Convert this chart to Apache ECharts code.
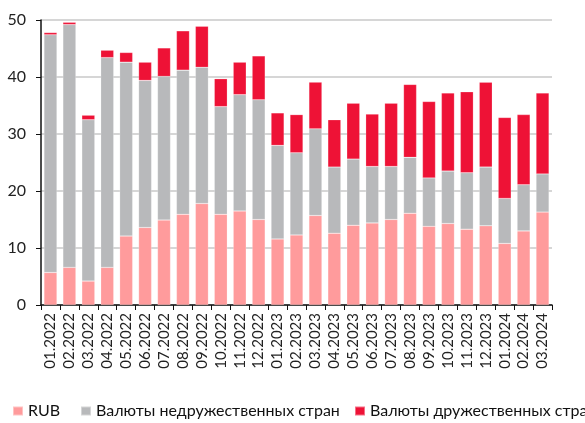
<!DOCTYPE html>
<html lang="ru">
<head>
    <meta charset="UTF-8">
    <title>Валютная структура</title>
    <style>
        html, body { margin: 0; padding: 0; background: #fff; }
    </style>
</head>
<body>
<div id="main" style="width: 585px;height:423px;"></div>
<script src="https://cdn.jsdelivr.net/npm/echarts@6/dist/echarts.min.js"></script>
<script type="text/javascript">
    // месяцы
    var months = ['01.2022', '02.2022', '03.2022', '04.2022', '05.2022', '06.2022', '07.2022', '08.2022', '09.2022',
        '10.2022', '11.2022', '12.2022', '01.2023', '02.2023', '03.2023', '04.2023', '05.2023', '06.2023',
        '07.2023', '08.2023', '09.2023', '10.2023', '11.2023', '12.2023', '01.2024', '02.2024', '03.2024'];

    // RUB
    var rub = [5.7, 6.6, 4.2, 6.6, 12.1, 13.6, 14.9, 15.9, 17.8, 15.9, 16.5, 15.0, 11.6, 12.3,
        15.7, 12.6, 14.0, 14.4, 15.0, 16.1, 13.8, 14.3, 13.3, 13.9, 10.8, 13.0, 16.3];
    // валюты недружественных стран
    var unfriendly = [41.7, 42.6, 28.3, 36.8, 30.5, 25.8, 25.2, 25.3, 23.9, 18.9, 20.4, 21.0, 16.4, 14.4,
        15.2, 11.6, 11.6, 9.9, 9.3, 9.8, 8.5, 9.2, 9.9, 10.3, 7.9, 8.1, 6.7];
    // валюты дружественных стран
    var friendly = [0.4, 0.4, 0.8, 1.3, 1.7, 3.2, 5.0, 6.9, 7.2, 4.9, 5.7, 7.7, 5.7, 6.7,
        8.2, 8.3, 9.8, 9.2, 11.1, 12.8, 13.4, 13.7, 14.2, 14.9, 14.2, 12.3, 14.2];

    var names = ['RUB', 'Валюты недружественных стран', 'Валюты дружественных стран'];
    var colors = ['#FF9B9C', '#B8B9BB', '#EE1236'];

    var yTicks = {min: 0, max: 50, interval: 10};

    var font = 'Lato';

    var myChart = echarts.init(document.getElementById('main'));

    function barSeries(i, data) {
        return {
            name: names[i],
            type: 'bar',
            stack: 'total',
            barWidth: 13,
            data: data,
            itemStyle: {
                color: colors[i],
                borderColor: 'rgba(255,255,255,0.4)',
                borderWidth: 0.5
            }
        };
    }

    // отдельная легенда на каждую серию, чтобы не переносилась
    var legendLeft = [12, 80, 354];
    var legends = names.map(function (n, i) {
        return {
            left: legendLeft[i],
            top: 403,
            padding: 0,
            itemWidth: 10,
            itemHeight: 9,
            itemGap: 0,
            icon: 'rect',
            textStyle: {fontFamily: font, fontSize: 16, color: '#111'},
            data: [n]
        };
    });

    myChart.setOption({
        animation: false,
        textStyle: {fontFamily: font},
        grid: {left: 41, right: 33, top: 20, bottom: 118},
        legend: legends,
        xAxis: {
            type: 'category',
            data: months,
            axisLine: {lineStyle: {color: '#111', width: 1.5}},
            axisTick: {show: true, alignWithLabel: false, length: 5, lineStyle: {color: '#111'}},
            axisLabel: {rotate: 90, fontSize: 15, color: '#222', fontFamily: font, margin: 8, interval: 0}
        },
        yAxis: {
            type: 'value',
            min: yTicks.min,
            max: yTicks.max,
            interval: yTicks.interval,
            axisLine: {show: true, lineStyle: {color: '#111', width: 1.5}},
            axisTick: {show: true, length: 5, lineStyle: {color: '#111'}},
            axisLabel: {fontSize: 16, color: '#222', fontFamily: font, margin: 15},
            splitLine: {lineStyle: {color: '#c8c8c8', width: 1.5}}
        },
        series: [
            barSeries(0, rub),
            barSeries(1, unfriendly),
            barSeries(2, friendly)
        ]
    });
</script>
</body>
</html>
